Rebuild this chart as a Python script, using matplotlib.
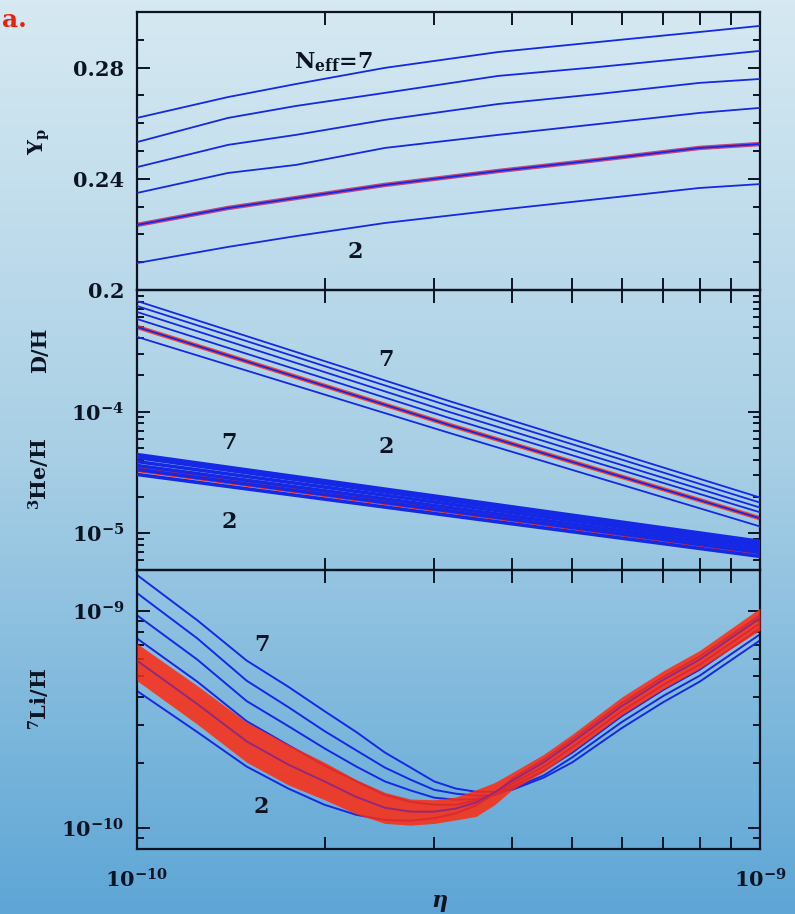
import numpy as np
import matplotlib
matplotlib.use('Agg')
import matplotlib.pyplot as plt
from matplotlib.ticker import FixedLocator, FixedFormatter, NullFormatter, MultipleLocator, LogLocator

plt.rcParams['font.family'] = ['DejaVu Serif']
plt.rcParams['mathtext.fontset'] = 'dejavuserif'
plt.rcParams['font.weight'] = 'bold'

# eta grids (baryon-to-photon ratio)
eta_yp = np.array([1, 1.4, 1.8, 2.5, 3.8, 5.5, 8, 10]) * 1e-10
eta_dh = np.array([1, 3.16, 10]) * 1e-10
eta_he = np.array([1, 10]) * 1e-10
eta_li = np.array([1, 1.25, 1.5, 1.75, 2, 2.25, 2.5, 2.75, 3, 3.25, 3.5, 3.75,
                   4, 4.5, 5, 6, 7, 8, 10]) * 1e-10

# helium-4 mass fraction, N_eff = 2..7
yp_n2 = [0.2097, 0.2155, 0.2194, 0.2241, 0.2288, 0.2327, 0.2367, 0.2381]
yp_n3 = [0.2234, 0.2295, 0.2331, 0.2378, 0.2428, 0.2468, 0.2511, 0.2525]
yp_n4 = [0.2349, 0.2421, 0.2450, 0.2511, 0.2558, 0.2597, 0.2637, 0.2655]
yp_n5 = [0.2442, 0.2522, 0.2558, 0.2612, 0.2669, 0.2705, 0.2745, 0.2759]
yp_n6 = [0.2532, 0.2619, 0.2662, 0.2709, 0.2770, 0.2802, 0.2838, 0.2860]
yp_n7 = [0.2619, 0.2694, 0.2741, 0.2799, 0.2856, 0.2892, 0.2928, 0.2950]

# D/H
dh_n2 = [4.12e-4, 6.73e-5, 1.14e-5]
dh_n3 = [4.97e-4, 7.82e-5, 1.33e-5]
dh_n4 = [5.78e-4, 8.93e-5, 1.49e-5]
dh_n5 = [6.60e-4, 1.00e-4, 1.63e-5]
dh_n6 = [7.39e-4, 1.12e-4, 1.79e-5]
dh_n7 = [8.12e-4, 1.23e-4, 1.97e-5]

# 3He/H
he_n2 = [3.05e-5, 6.47e-6]
he_n3 = [3.35e-5, 6.98e-6]
he_n4 = [3.61e-5, 7.39e-6]
he_n5 = [3.89e-5, 7.82e-6]
he_n6 = [4.20e-5, 8.20e-6]
he_n7 = [4.44e-5, 8.59e-6]

# 7Li/H in units of 1e-10
li_n2 = [4.29, 2.77, 1.92, 1.52, 1.28, 1.15, 1.09, 1.08, 1.11, 1.17, 1.27, 1.44,
         1.69, 2.07, 2.57, 3.77, 4.98, 6.18, 9.58]
li_n3 = [5.92, 3.73, 2.51, 1.96, 1.64, 1.39, 1.24, 1.19, 1.19, 1.23, 1.31, 1.46,
         1.65, 2.01, 2.49, 3.65, 4.83, 5.98, 9.28]
li_n4 = [7.49, 4.73, 3.11, 2.41, 1.94, 1.64, 1.42, 1.32, 1.28, 1.28, 1.34, 1.44,
         1.60, 1.92, 2.36, 3.46, 4.58, 5.67, 8.79]
li_n5 = [9.58, 5.98, 3.85, 2.95, 2.33, 1.92, 1.64, 1.49, 1.38, 1.35, 1.36, 1.42,
         1.55, 1.84, 2.23, 3.28, 4.34, 5.37, 8.34]
li_n6 = [12.13, 7.49, 4.78, 3.61, 2.80, 2.28, 1.90, 1.67, 1.50, 1.44, 1.41, 1.42,
         1.52, 1.75, 2.12, 3.08, 4.07, 5.04, 7.82]
li_n7 = [14.70, 9.08, 5.92, 4.48, 3.46, 2.77, 2.23, 1.90, 1.64, 1.52, 1.47, 1.47,
         1.50, 1.71, 2.01, 2.89, 3.81, 4.73, 7.33]
li_band_hi = [7.10, 4.53, 3.08, 2.43, 2.01, 1.67, 1.46, 1.36, 1.35, 1.39, 1.50, 1.62,
              1.80, 2.19, 2.71, 4.02, 5.32, 6.59, 10.33]
li_band_lo = [4.78, 3.01, 2.01, 1.58, 1.35, 1.16, 1.05, 1.03, 1.05, 1.09, 1.13, 1.28,
              1.50, 1.82, 2.26, 3.32, 4.38, 5.43, 8.16]

blue = '#1428e6'
red = '#ff2a10'
ink = '#0c1424'

fig = plt.figure(figsize=(7.95, 9.14), dpi=100)

# background gradient
bg = fig.add_axes([0, 0, 1, 1], zorder=-10)
top_c = np.array([214, 233, 242]) / 255
mid_c = np.array([168, 207, 229]) / 255
bot_c = np.array([94, 166, 214]) / 255
t = np.linspace(0, 1, 256)[:, None]
grad = np.where(t < 0.5, top_c + (mid_c - top_c) * (t / 0.5), mid_c + (bot_c - mid_c) * ((t - 0.5) / 0.5))
bg.imshow(grad[:, None, :], aspect='auto', extent=[0, 1, 0, 1])
bg.axis('off')

left, width = 0.1723, 0.7836
ax1 = fig.add_axes([left, 0.6827, width, 0.3042])
ax2 = fig.add_axes([left, 0.3764, width, 0.3063])
ax3 = fig.add_axes([left, 0.0711, width, 0.3053])

tick_fs = 15
for ax in (ax1, ax2, ax3):
    ax.set_facecolor('none')
    ax.set_xscale('log')
    ax.set_xlim(1e-10, 1e-9)
    ax.xaxis.set_major_locator(FixedLocator([1e-10, 1e-9]))
    ax.xaxis.set_minor_locator(FixedLocator(np.arange(2, 10) * 1e-10))
    ax.xaxis.set_minor_formatter(NullFormatter())
    ax.tick_params(which='both', direction='in', top=True, right=True,
                   color=ink, width=1.4, labelsize=tick_fs, labelcolor=ink)
    ax.tick_params(which='major', length=9)
    ax.tick_params(which='minor', length=5)
    ax.tick_params(axis='x', which='minor', length=9)
    ax.tick_params(axis='y', pad=9)
    for s in ax.spines.values():
        s.set_color(ink)
        s.set_linewidth(1.6)
    if ax is not ax3:
        ax.xaxis.set_major_formatter(NullFormatter())

ax3.xaxis.set_major_formatter(FixedFormatter([r'$10^{-10}$', r'$10^{-9}$']))
ax3.tick_params(axis='x', pad=14)

# --- top panel: Yp
yp_all = [yp_n2, yp_n3, yp_n4, yp_n5, yp_n6, yp_n7]
ax1.plot(eta_yp, yp_n3, color='#c0205a', lw=3.2, alpha=0.8, zorder=2)
for vals in yp_all:
    ax1.plot(eta_yp, vals, color=blue, lw=1.3, zorder=3)
ax1.set_ylim(0.2, 0.3)
ax1.yaxis.set_major_locator(FixedLocator([0.2, 0.24, 0.28]))
ax1.yaxis.set_major_formatter(FixedFormatter(['0.2', '0.24', '0.28']))
ax1.yaxis.set_minor_locator(MultipleLocator(0.01))
ax1.text(0.315, 0.82, r'N$_{\mathbf{eff}}$=7', transform=ax1.transAxes,
         fontsize=16, color=ink, ha='center', va='center')
ax1.text(0.35, 0.135, '2', transform=ax1.transAxes, fontsize=16, color=ink,
         ha='center', va='center')

# --- middle panel: D/H and 3He/H
dh_all = [dh_n2, dh_n3, dh_n4, dh_n5, dh_n6, dh_n7]
he_all = [he_n2, he_n3, he_n4, he_n5, he_n6, he_n7]
ax2.plot(eta_he, he_n3, color=red, lw=3.8, zorder=2)
for vals in he_all:
    ax2.plot(eta_he, vals, color=blue, lw=2.6, zorder=3)
ax2.plot(eta_dh, dh_n3, color=red, lw=3.2, alpha=0.85, zorder=2)
for vals in dh_all:
    ax2.plot(eta_dh, vals, color=blue, lw=1.3, zorder=3)
ax2.set_yscale('log')
ax2.set_ylim(5e-6, 1e-3)
ax2.yaxis.set_major_locator(FixedLocator([1e-5, 1e-4, 1e-3]))
ax2.yaxis.set_major_formatter(FixedFormatter([r'$10^{-5}$', r'$10^{-4}$', '']))
ax2.yaxis.set_minor_locator(LogLocator(base=10, subs=np.arange(2, 10)))
ax2.yaxis.set_minor_formatter(NullFormatter())
for x, y, s in [(0.40, 0.75, '7'), (0.40, 0.44, '2'), (0.148, 0.455, '7'), (0.148, 0.17, '2')]:
    ax2.text(x, y, s, transform=ax2.transAxes, fontsize=16, color=ink,
             ha='center', va='center')

# --- bottom panel: 7Li/H
li_all = [li_n2, li_n3, li_n4, li_n5, li_n6, li_n7]
for vals in li_all:
    ax3.plot(eta_li, np.array(vals) * 1e-10, color=blue, lw=1.4, zorder=2)
ax3.fill_between(eta_li, np.array(li_band_lo) * 1e-10, np.array(li_band_hi) * 1e-10,
                 color=red, alpha=0.85, lw=0, zorder=3)
ax3.plot(eta_li, np.array(li_n3) * 1e-10, color='#6a2aa8', lw=1.2, alpha=0.7, zorder=4)
ax3.set_yscale('log')
ax3.set_ylim(8e-11, 1.55e-9)
ax3.yaxis.set_major_locator(FixedLocator([1e-10, 1e-9]))
ax3.yaxis.set_major_formatter(FixedFormatter([r'$10^{-10}$', r'$10^{-9}$']))
ax3.yaxis.set_minor_locator(LogLocator(base=10, subs=np.arange(2, 10)))
ax3.yaxis.set_minor_formatter(NullFormatter())
ax3.text(0.2, 0.73, '7', transform=ax3.transAxes, fontsize=16, color=ink, ha='center', va='center')
ax3.text(0.2, 0.15, '2', transform=ax3.transAxes, fontsize=16, color=ink, ha='center', va='center')

# axis labels
fig.text(0.05, 0.845, r'Y$_\mathrm{p}$', rotation=90, fontsize=15, color=ink, ha='center', va='center')
fig.text(0.05, 0.617, 'D/H', rotation=90, fontsize=15, color=ink, ha='center', va='center')
fig.text(0.05, 0.482, r'$^3$He/H', rotation=90, fontsize=15, color=ink, ha='center', va='center')
fig.text(0.05, 0.235, r'$^7$Li/H', rotation=90, fontsize=15, color=ink, ha='center', va='center')
fig.text(0.553, 0.012, r'$\eta$', fontsize=16, color=ink, ha='center', va='center')
fig.text(0.003, 0.978, 'a.', fontsize=18, color='#e8200c', ha='left', va='center')

fig.savefig('out.png', dpi=100)
